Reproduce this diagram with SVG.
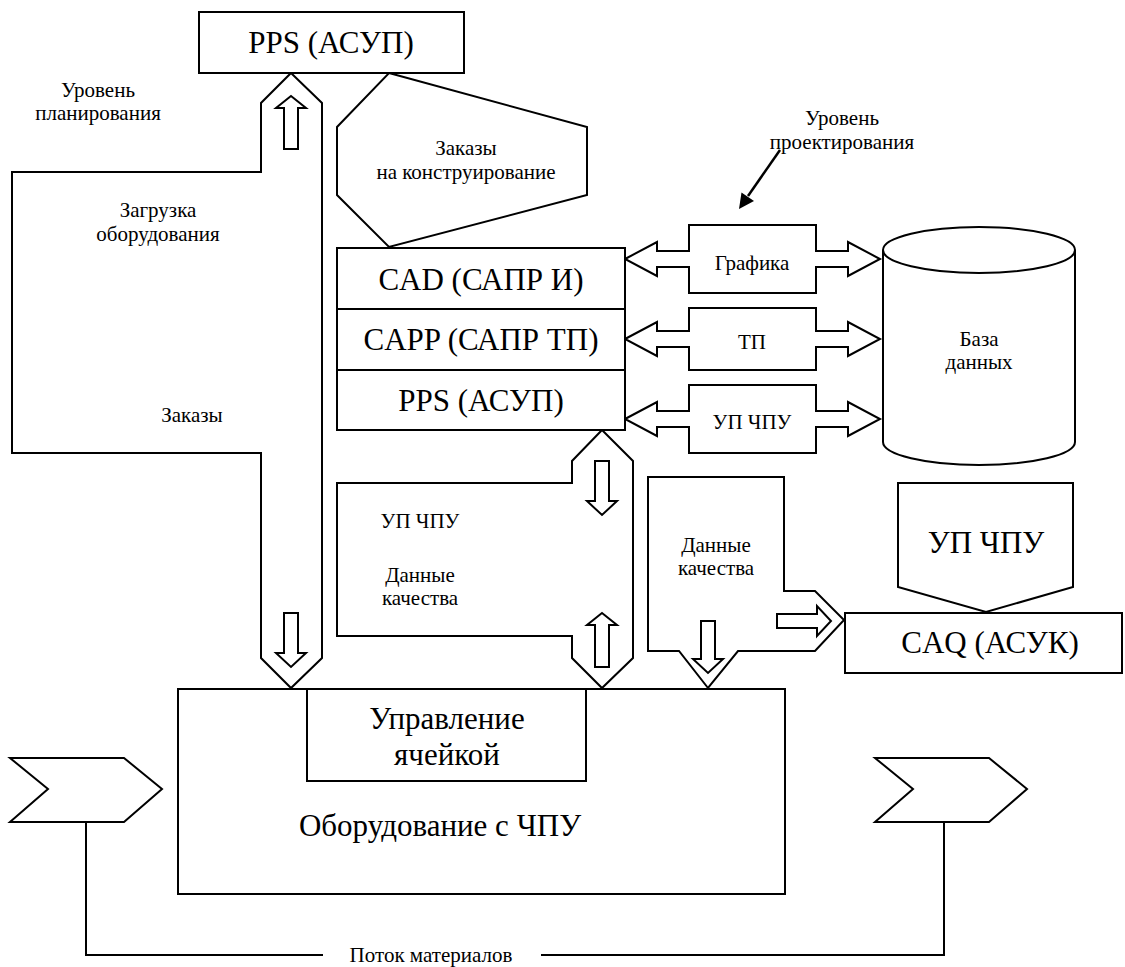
<svg xmlns="http://www.w3.org/2000/svg" width="1125" height="967" viewBox="0 0 1125 967" font-family="Liberation Serif, Times New Roman, DejaVu Serif, serif">
<defs>
<style>
.s{fill:#fff;stroke:#000;stroke-width:2;stroke-linejoin:miter}
.l{fill:none;stroke:#000;stroke-width:2}
text{font-family:'Liberation Serif','Times New Roman','DejaVu Serif',serif;fill:#000;text-anchor:middle}
.b{font-size:31px}
.m{font-size:21px}
</style>
</defs>
<rect width="1125" height="967" fill="#fff"/>

<g id="connectors">
<polygon class="s" points="291,73 322,103 322,658 291,688 261,658 261,453 12,453 12,172 261,172 261,103"/>
<polygon class="s" points="602,430 633,461 633,658 602,688 572,658 572,636 337,636 337,483 572,483 572,461"/>
<polygon class="s" points="648,477 784,477 784,591 815,591 844,620 815,651 738,651 708,688 679,651 648,651"/>
<polygon class="s" points="625,259 657,242 657,251 689,251 689,225 816,225 816,251 848,251 848,242 880,259 848,276 848,267 816,267 816,293 689,293 689,267 657,267 657,276"/>
<polygon class="s" points="625,339 657,322 657,331 689,331 689,308 816,308 816,331 848,331 848,322 880,339 848,356 848,347 816,347 816,370 689,370 689,347 657,347 657,356"/>
<polygon class="s" points="625,419 657,402 657,411 689,411 689,385 816,385 816,411 848,411 848,402 880,419 848,436 848,427 816,427 816,453 689,453 689,427 657,427 657,436"/>
<polygon class="s" points="291,96 306,108 298,108 298,149 284,149 284,108 276,108"/>
<polygon class="s" points="284,613 298,613 298,653 306,653 291,667 276,653 284,653"/>
<polygon class="s" points="595,461 609,461 609,501 617,501 602,515 587,501 595,501"/>
<polygon class="s" points="602,613 617,625 609,625 609,667 595,667 595,625 587,625"/>
<polygon class="s" points="777,614 817,614 817,606 831,621 817,636 817,628 777,628"/>
<polygon class="s" points="701,621 715,621 715,659 723,659 708,673 693,659 701,659"/>
<line x1="780" y1="150" x2="748" y2="196" stroke="#000" stroke-width="2.5"/>
<polygon points="739,209 741.5,192.5 754,201" fill="#000"/>
<polyline class="l" points="86,805 86,955 323,955"/>
<polyline class="l" points="541,955 944,955 944,795"/>
</g>

<g id="pps-top">
<rect class="s" x="199" y="12" width="265" height="61"/>
<text class="b" x="331" y="53">PPS (АСУП)</text>
</g>

<g id="orders-design">
<polygon class="s" points="389,73 587,127 587,195 389,247 337,195 337,127"/>
<text class="m" x="466" y="155">Заказы</text>
<text class="m" x="466" y="179">на конструирование</text>
</g>

<g id="cad-stack">
<rect class="s" x="337" y="248" width="288" height="61"/>
<rect class="s" x="337" y="309" width="288" height="61"/>
<rect class="s" x="337" y="370" width="288" height="60"/>
<text class="b" x="481" y="290">CAD (САПР И)</text>
<text class="b" x="481" y="350">CAPP (САПР ТП)</text>
<text class="b" x="481" y="411">PPS (АСУП)</text>
</g>

<g id="database">
<path class="s" d="M883,250 L883,442 A96,23 0 0 0 1075,442 L1075,250"/>
<ellipse class="s" cx="979" cy="250" rx="96" ry="23"/>
<text class="m" x="979" y="346">База</text>
<text class="m" x="979" y="369">данных</text>
</g>

<g id="up-chpu">
<polygon class="s" points="898,483 1073,483 1073,587 986,612 898,587"/>
<text class="b" x="986" y="553">УП ЧПУ</text>
</g>

<g id="caq">
<rect class="s" x="845" y="613" width="277" height="60"/>
<text class="b" x="990" y="653">CAQ (АСУК)</text>
</g>

<g id="equipment">
<rect class="s" x="178" y="689" width="607" height="205"/>
<text class="b" x="440" y="836">Оборудование с ЧПУ</text>
</g>

<g id="cell-control">
<rect class="s" x="307" y="689" width="279" height="92"/>
<text class="b" x="447" y="729">Управление</text>
<text class="b" x="447" y="765">ячейкой</text>
</g>

<g id="flow-in">
<polygon class="s" points="10,758 124,758 162,789 124,822 10,822 48,789"/>
</g>
<g id="flow-out">
<polygon class="s" points="875,758 989,758 1027,789 989,822 875,822 913,789"/>
</g>

<g id="labels">
<text class="m" x="98" y="97">Уровень</text>
<text class="m" x="98" y="120">планирования</text>
<text class="m" x="158" y="217">Загрузка</text>
<text class="m" x="158" y="241">оборудования</text>
<text class="m" x="192" y="422">Заказы</text>
<text class="m" x="842" y="125">Уровень</text>
<text class="m" x="842" y="149">проектирования</text>
<text class="m" x="752" y="270">Графика</text>
<text class="m" x="752" y="349">ТП</text>
<text class="m" x="752" y="429">УП ЧПУ</text>
<text class="m" x="420" y="528">УП ЧПУ</text>
<text class="m" x="420" y="582">Данные</text>
<text class="m" x="420" y="605">качества</text>
<text class="m" x="716" y="552">Данные</text>
<text class="m" x="716" y="575">качества</text>
<text class="m" x="431" y="962">Поток материалов</text>
</g>
</svg>
